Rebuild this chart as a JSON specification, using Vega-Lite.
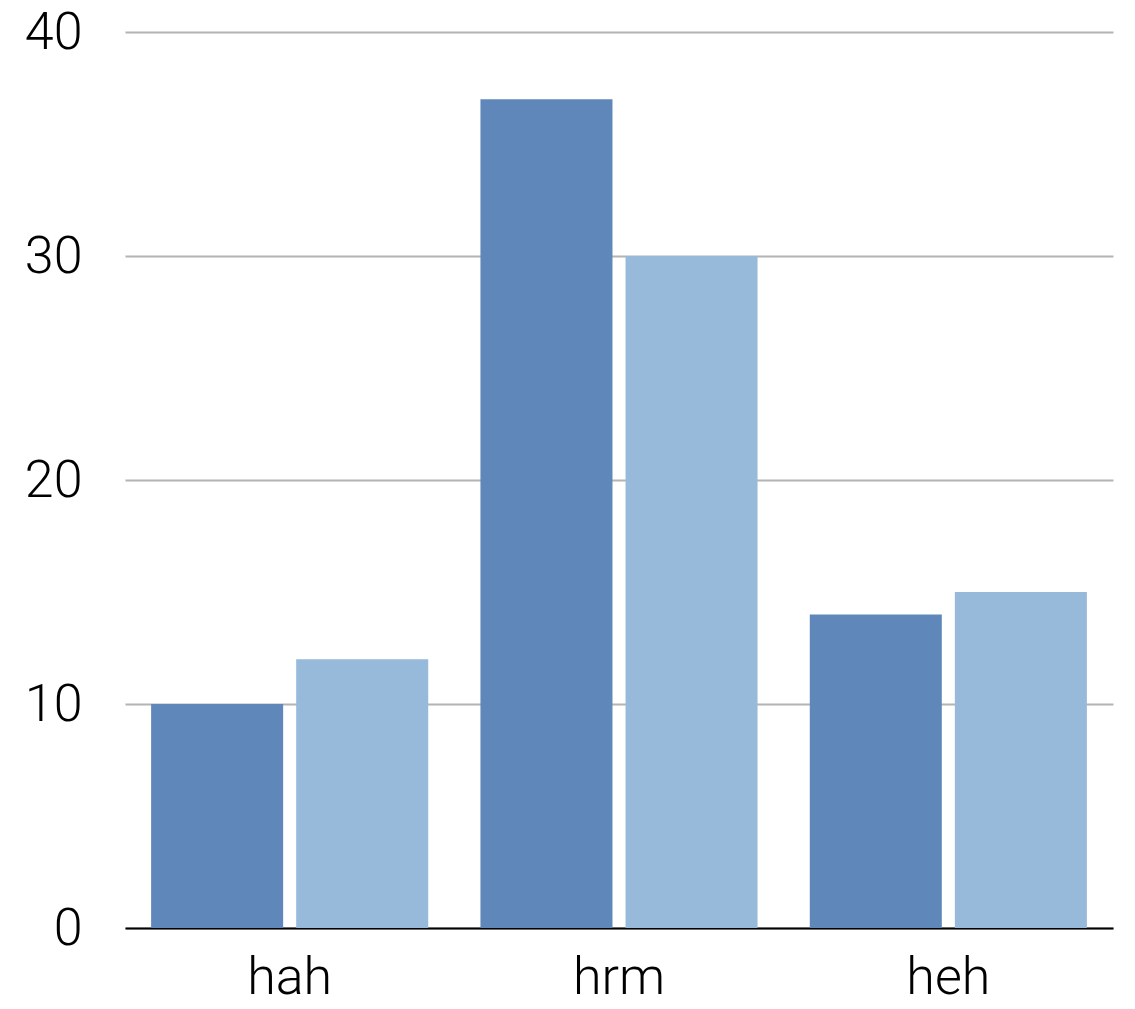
{
  "$schema": "https://vega.github.io/schema/vega-lite/v6.json",
  "autosize": "none",
  "width": 988,
  "height": 896,
  "padding": {"left": 125, "top": 32, "right": 22, "bottom": 81},
  "background": "white",
  "data": {
    "values": [
      {"category": "hah", "series": "A", "value": 10},
      {"category": "hah", "series": "B", "value": 12},
      {"category": "hrm", "series": "A", "value": 37},
      {"category": "hrm", "series": "B", "value": 30},
      {"category": "heh", "series": "A", "value": 14},
      {"category": "heh", "series": "B", "value": 15}
    ]
  },
  "config": {
    "view": {"stroke": null},
    "font": "Roboto"
  },
  "mark": {"type": "bar"},
  "encoding": {
    "x": {
      "field": "category",
      "type": "nominal",
      "sort": ["hah", "hrm", "heh"],
      "scale": {"paddingInner": 0, "paddingOuter": 0},
      "axis": {
        "title": null,
        "labelAngle": 0,
        "labelFont": "Roboto",
        "labelFontWeight": 300,
        "labelFontSize": 52,
        "labelColor": "black",
        "labelPadding": 24,
        "ticks": false,
        "domainColor": "black",
        "domainWidth": 2,
        "grid": false
      }
    },
    "xOffset": {
      "field": "series",
      "type": "nominal",
      "scale": {"paddingInner": 0.09, "paddingOuter": 0.18}
    },
    "y": {
      "field": "value",
      "type": "quantitative",
      "scale": {"domain": [0, 40]},
      "axis": {
        "title": null,
        "values": [0, 10, 20, 30, 40],
        "labelFont": "Roboto",
        "labelFontWeight": 300,
        "labelFontSize": 52,
        "labelColor": "black",
        "labelPadding": 43,
        "ticks": false,
        "domain": false,
        "gridColor": "#b4b4b4",
        "gridWidth": 2,
        "gridOpacity": 1
      }
    },
    "color": {
      "field": "series",
      "type": "nominal",
      "scale": {"domain": ["A", "B"], "range": ["#5f87b9", "#97b9da"]},
      "legend": null
    }
  }
}
